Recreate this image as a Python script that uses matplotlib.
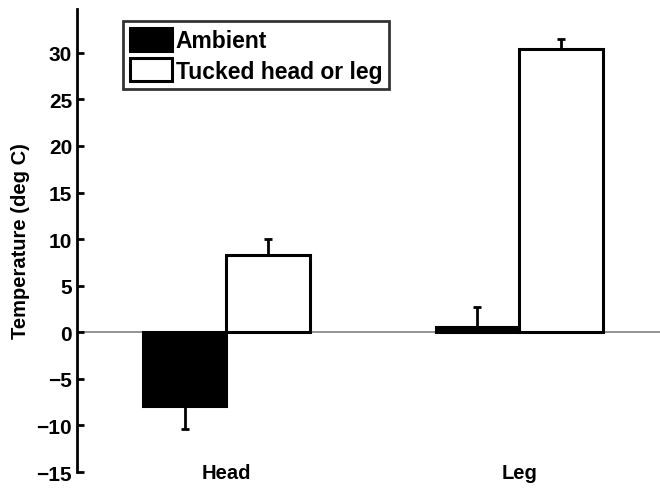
import matplotlib
matplotlib.use("Agg")
import matplotlib.pyplot as plt
import numpy as np

categories = ["Head", "Leg"]
series_names = ["Ambient", "Tucked head or leg"]
ambient = [-7.9, 0.6]
tucked = [8.3, 30.4]
ambient_err = [2.5, 2.1]
tucked_err = [1.7, 1.1]
yticks = [-15, -10, -5, 0, 5, 10, 15, 20, 25, 30]

plt.rcParams['font.family'] = ['Liberation Sans', 'DejaVu Sans']
plt.rcParams['font.weight'] = 'bold'

fig = plt.figure(figsize=(6.6, 4.89), dpi=100)
ax = fig.add_axes([0.1167, 0.0327, 0.8833, 0.9469])

x = np.arange(1, len(categories) + 1)
w = 0.286

# zero line
ax.axhline(0, color='#808080', lw=1.2, zorder=1)

ax.bar(x - w / 2, ambient, w, color='black', edgecolor='black', lw=2.2,
       label=series_names[0], zorder=2)
ax.bar(x + w / 2, tucked, w, color='white', edgecolor='black', lw=2.2,
       label=series_names[1], zorder=2)

# one-sided error bars (away from zero)
amb_lo = [e if v < 0 else 0 for v, e in zip(ambient, ambient_err)]
amb_hi = [e if v >= 0 else 0 for v, e in zip(ambient, ambient_err)]
ax.errorbar(x - w / 2, ambient, yerr=[amb_lo, amb_hi], fmt='none',
            ecolor='black', elinewidth=2, capsize=3, capthick=2, zorder=3)
tk_lo = [e if v < 0 else 0 for v, e in zip(tucked, tucked_err)]
tk_hi = [e if v >= 0 else 0 for v, e in zip(tucked, tucked_err)]
ax.errorbar(x + w / 2, tucked, yerr=[tk_lo, tk_hi], fmt='none',
            ecolor='black', elinewidth=2, capsize=3, capthick=2, zorder=3)

ax.set_xlim(0.49, 2.48)
ax.set_ylim(-15, 34.7)
ax.set_yticks(yticks)
ax.set_yticklabels([str(t).replace('-', '\u2212') for t in yticks])
ax.set_xticks(x)
ax.set_xticklabels(categories)

for s in ['top', 'right', 'bottom']:
    ax.spines[s].set_visible(False)
ax.spines['left'].set_linewidth(2)
ax.tick_params(axis='y', direction='in', length=5, width=2, labelsize=15, pad=3.5)
ax.tick_params(axis='x', length=0, labelsize=14.5, pad=-6.5)
for lab in ax.get_xticklabels() + ax.get_yticklabels():
    lab.set_fontweight('bold')

ax.set_ylabel("Temperature (deg C)", fontsize=14.5, fontweight='bold', labelpad=5)

leg = ax.legend(loc='upper left', bbox_to_anchor=(0.079, 0.974),
                prop={'size': 16.5, 'weight': 'bold'},
                frameon=True, fancybox=False, edgecolor='black',
                handlelength=1.83, handleheight=1.15, handletextpad=0.17,
                borderpad=0.3, labelspacing=0.28, borderaxespad=0)
leg.get_frame().set_linewidth(2)

fig.savefig("out.png", dpi=100)
